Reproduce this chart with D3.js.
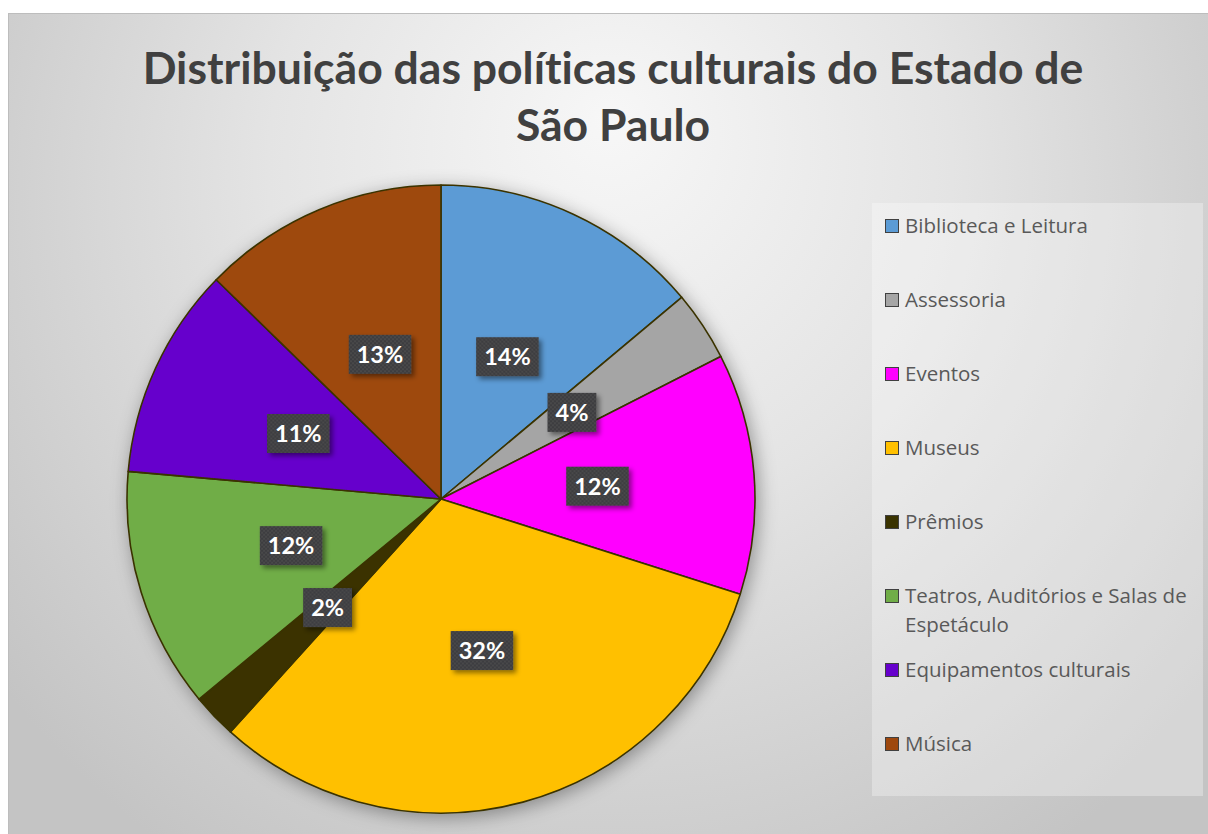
<!DOCTYPE html>
<html>
<head>
<meta charset="utf-8">
<script src="https://cdn.jsdelivr.net/npm/d3@7"></script>
<style>
  body { margin: 0; background: #fff; }
  svg { display: block; }
  text { font-variant-ligatures: none; }
</style>
</head>
<body>
<svg id="chart"></svg>
<script>
// data
const categories = ['Biblioteca e Leitura', 'Assessoria', 'Eventos', 'Museus', 'Prêmios',
    'Teatros, Auditórios e Salas de Espetáculo', 'Equipamentos culturais', 'Música'];
const shares = [13.9, 3.6, 12.4, 31.8, 2.3, 12.4, 10.9, 12.7];
const sliceColors = ['#5B9BD5', '#A5A5A5', '#FF00FF', '#FFC000', '#3A3300', '#70AD47', '#6600CC', '#9E480E'];
const titleLines = ['Distribuição das políticas culturais do Estado de', 'São Paulo'];

function draw() {
    const W = 1208, H = 834;
    const svg = d3.select('#chart').attr('width', W).attr('height', H);
    const defs = svg.append('defs');

    const bg = defs.append('radialGradient').attr('id', 'bg')
        .attr('gradientUnits', 'userSpaceOnUse')
        .attr('cx', 610).attr('cy', 230).attr('r', 760)
        .attr('fx', 610).attr('fy', 120);
    bg.append('stop').attr('offset', '0%').attr('stop-color', '#f7f7f7');
    bg.append('stop').attr('offset', '45%').attr('stop-color', '#e4e4e4');
    bg.append('stop').attr('offset', '100%').attr('stop-color', '#c4c4c4');

    const shadow = defs.append('filter').attr('id', 'pieShadow')
        .attr('x', '-20%').attr('y', '-20%').attr('width', '140%').attr('height', '140%');
    shadow.append('feDropShadow').attr('dx', 3).attr('dy', 4).attr('stdDeviation', 9)
        .attr('flood-color', '#000').attr('flood-opacity', 0.35);

    const lblShadow = defs.append('filter').attr('id', 'lblShadow')
        .attr('x', '-30%').attr('y', '-30%').attr('width', '170%').attr('height', '170%');
    lblShadow.append('feDropShadow').attr('dx', 3).attr('dy', 3).attr('stdDeviation', 2.5)
        .attr('flood-color', '#000').attr('flood-opacity', 0.45);

    const dots = defs.append('pattern').attr('id', 'dots')
        .attr('patternUnits', 'userSpaceOnUse').attr('width', 4).attr('height', 4);
    dots.append('rect').attr('width', 4).attr('height', 4).attr('fill', '#3d3d3f');
    dots.append('circle').attr('cx', 1).attr('cy', 1).attr('r', 0.7).attr('fill', '#5a5a5e');
    dots.append('circle').attr('cx', 3).attr('cy', 3).attr('r', 0.7).attr('fill', '#5a5a5e');

    // chart area
    svg.append('rect')
        .attr('x', 8.5).attr('y', 13.5).attr('width', W).attr('height', H)
        .attr('fill', 'url(#bg)').attr('stroke', '#bdbdbd').attr('stroke-width', 1);

    // title
    const title = svg.append('text')
        .attr('text-anchor', 'middle')
        .style('font-family', 'Lato, "Open Sans", sans-serif')
        .style('font-weight', 'bold')
        .style('font-size', '44.5px')
        .attr('fill', '#404040');
    title.selectAll('tspan').data(titleLines).enter().append('tspan')
        .attr('x', 613)
        .attr('y', (d, i) => 84 + i * 57)
        .text(d => d);

    // pie
    const cx = 441, cy = 499, R = 314;
    const pie = d3.pie().sort(null).value(d => d);
    const arcs = pie(shares);
    const arc = d3.arc().innerRadius(0).outerRadius(R);
    const color = d3.scaleOrdinal().domain(categories).range(sliceColors);
    const total = d3.sum(shares);

    const g = svg.append('g').attr('transform', `translate(${cx},${cy})`);
    g.append('g').attr('filter', 'url(#pieShadow)')
        .selectAll('path').data(arcs).enter().append('path')
        .attr('d', arc)
        .attr('fill', (d, i) => color(categories[i]))
        .attr('stroke', '#3a3300')
        .attr('stroke-width', 1.6)
        .attr('stroke-linejoin', 'round');

    const labels = g.selectAll('.lbl').data(arcs).enter().append('g')
        .attr('class', 'lbl')
        .attr('transform', d => `translate(${arc.centroid(d)})`);
    labels.append('text')
        .attr('text-anchor', 'middle')
        .attr('dy', '0.36em')
        .style('font-family', 'Lato, "Open Sans", sans-serif')
        .style('font-weight', 'bold')
        .style('font-size', '23.5px')
        .attr('fill', '#fff')
        .text(d => Math.round(d.value / total * 100) + '%');
    labels.each(function() {
        const sel = d3.select(this);
        const bb = sel.select('text').node().getBBox();
        sel.insert('rect', 'text')
            .attr('x', bb.x - 8).attr('y', -19.5)
            .attr('width', bb.width + 16).attr('height', 39)
            .attr('fill', 'url(#dots)')
            .attr('filter', 'url(#lblShadow)');
    });

    // legend
    const lg = svg.append('g');
    lg.append('rect')
        .attr('x', 872).attr('y', 203).attr('width', 331).attr('height', 593)
        .attr('fill', '#ffffff').attr('fill-opacity', 0.3);
    const rowY = d3.scalePoint().domain(categories).range([226, 744]);
    const item = lg.selectAll('.item').data(categories).enter().append('g')
        .attr('class', 'item')
        .attr('transform', d => `translate(885,${rowY(d)})`);
    item.append('rect')
        .attr('x', 0.5).attr('y', -6.5).attr('width', 13).attr('height', 13)
        .attr('fill', d => color(d))
        .attr('stroke', '#404040').attr('stroke-width', 1);
    const lt = item.append('text')
        .style('font-family', '"Open Sans", sans-serif')
        .style('font-size', '20.5px')
        .attr('fill', '#595959');
    lt.each(function(d) {
        const t = d3.select(this);
        const parts = d === 'Teatros, Auditórios e Salas de Espetáculo'
            ? ['Teatros, Auditórios e Salas de', 'Espetáculo'] : [d];
        t.selectAll('tspan').data(parts).enter().append('tspan')
            .attr('x', 20)
            .attr('y', (p, i) => i * 29)
            .attr('dy', '0.35em')
            .text(p => p);
    });
}

window.onload = draw;
</script>
</body>
</html>
